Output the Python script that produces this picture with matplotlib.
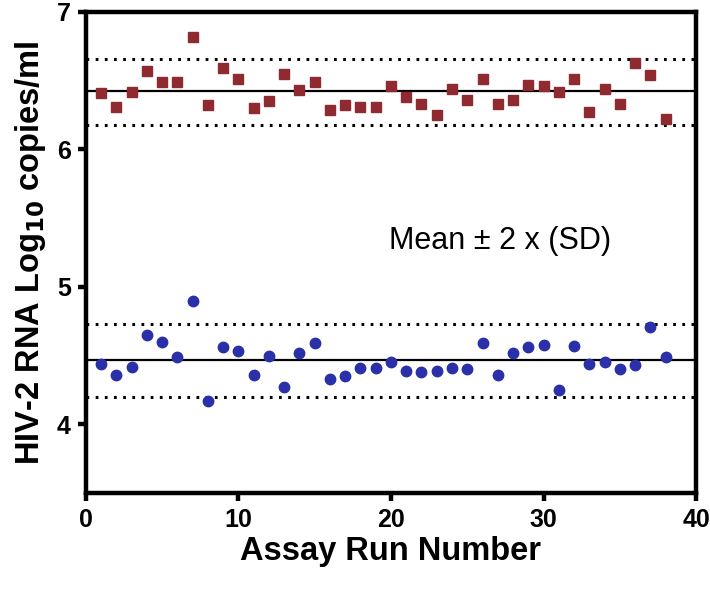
import numpy as np
import matplotlib.pyplot as plt

# --- datos ---
runs = np.arange(1, 39)

high_vals = [6.41, 6.31, 6.42, 6.57, 6.49, 6.49, 6.82, 6.32, 6.59, 6.51,
             6.30, 6.35, 6.55, 6.43, 6.49, 6.29, 6.32, 6.31, 6.31, 6.46,
             6.38, 6.33, 6.25, 6.44, 6.36, 6.51, 6.33, 6.36, 6.47, 6.46,
             6.42, 6.51, 6.27, 6.44, 6.33, 6.63, 6.54, 6.22]

low_vals = [4.44, 4.36, 4.42, 4.65, 4.60, 4.49, 4.90, 4.17, 4.56, 4.53,
            4.36, 4.50, 4.27, 4.52, 4.59, 4.33, 4.35, 4.41, 4.41, 4.45,
            4.39, 4.38, 4.39, 4.41, 4.40, 4.59, 4.36, 4.52, 4.56, 4.58,
            4.25, 4.57, 4.44, 4.45, 4.40, 4.43, 4.71, 4.49]

# media y limites (media +/- 2 SD)
high_mean, high_lo, high_hi = 6.425, 6.176, 6.66
low_mean, low_lo, low_hi = 4.466, 4.195, 4.73

x_ticks = [0, 10, 20, 30, 40]
y_ticks = [4, 5, 6, 7]

plt.rcParams['font.family'] = ['Liberation Sans', 'DejaVu Sans']

fig = plt.figure(figsize=(7.1, 5.9), dpi=100)
ax = fig.add_axes([0.1211, 0.1644, 0.8592, 0.8153])

for m, lo, hi in [(high_mean, high_lo, high_hi), (low_mean, low_lo, low_hi)]:
    ax.axhline(m, color='black', lw=1.6, zorder=1)
    ax.axhline(lo, color='black', lw=2.2, ls=(0, (0.9, 2.1)), zorder=1)
    ax.axhline(hi, color='black', lw=2.2, ls=(0, (0.9, 2.1)), zorder=1)

ax.plot(runs, high_vals, 's', color='#8E2A30', ms=7, mec='#8E2A30', zorder=3, clip_on=False)
ax.plot(runs, low_vals, 'o', color='#2A30A8', ms=7.5, mec='#2A30A8', zorder=3, clip_on=False)

ax.text(27.15, 5.33, 'Mean ± 2 x (SD)', fontsize=22, ha='center', va='center')

ax.set_xlim(0, 40)
ax.set_ylim(3.5, 7)
ax.set_xticks(x_ticks)
ax.set_yticks(y_ticks)

for s in ax.spines.values():
    s.set_linewidth(3.2)
ax.tick_params(width=3.2, length=6, labelsize=18, pad=5)
for lab in ax.get_xticklabels() + ax.get_yticklabels():
    lab.set_fontweight('bold')

ax.set_xlabel('Assay Run Number', fontsize=23.5, fontweight='bold', labelpad=3)
ax.set_ylabel('HIV-2 RNA Log$_{\\mathbf{10}}$ copies/ml', fontsize=23.5, fontweight='bold', labelpad=6)

fig.savefig('out.png', dpi=100)
